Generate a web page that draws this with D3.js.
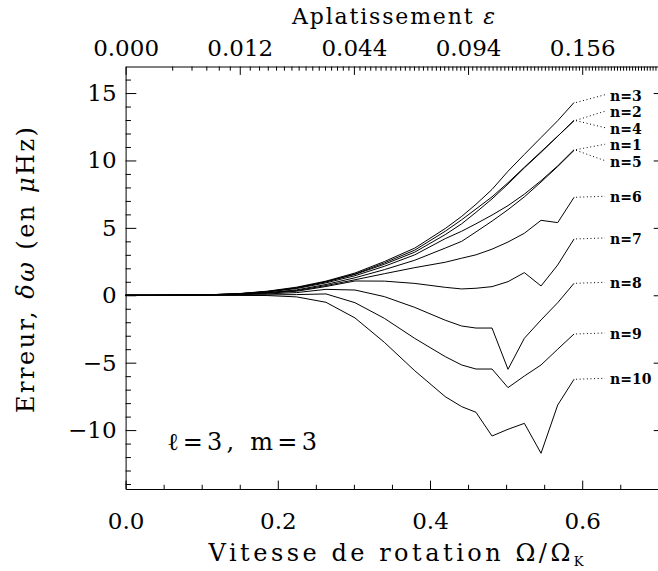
<!DOCTYPE html>
<html><head><meta charset="utf-8">
<script src="https://cdn.jsdelivr.net/npm/d3@7"></script>
<style>body{margin:0;background:#fff}svg{display:block}text{font-family:"DejaVu Serif",serif;fill:#000}</style>
</head><body>
<script>
// ---- data ----
const omega = [0, 0.035, 0.07, 0.11, 0.148, 0.186, 0.2248, 0.2633, 0.3014, 0.340, 0.380, 0.420, 0.4416, 0.4604, 0.4815, 0.5025, 0.524, 0.5459, 0.5678, 0.5893];
const seriesNames = ["n=1","n=2","n=3","n=4","n=5","n=6","n=7","n=8","n=9","n=10"];
const n1  = [0, 0, 0.01, 0.04, 0.10, 0.25, 0.50, 0.92, 1.45, 2.15, 3.00, 4.20, 4.75, 5.30, 5.95, 6.65, 7.50, 8.50, 9.60, 10.80];
const n2  = [0, 0, 0.01, 0.04, 0.11, 0.28, 0.55, 1.00, 1.58, 2.40, 3.35, 4.75, 5.60, 6.40, 7.30, 8.35, 9.50, 10.65, 11.80, 12.98];
const n3  = [0, 0, 0.01, 0.04, 0.12, 0.30, 0.60, 1.05, 1.65, 2.50, 3.50, 4.95, 5.85, 6.75, 7.85, 9.20, 10.45, 11.70, 12.95, 14.30];
const n4  = [0, 0, 0.01, 0.04, 0.11, 0.27, 0.55, 1.00, 1.55, 2.30, 3.20, 4.50, 5.30, 6.15, 7.15, 8.25, 9.45, 10.60, 11.80, 12.95];
const n5  = [0, 0, 0.01, 0.03, 0.09, 0.20, 0.40, 0.80, 1.30, 1.90, 2.60, 3.50, 4.00, 4.70, 5.50, 6.35, 7.30, 8.40, 9.55, 10.75];
const n6  = [0, 0, 0.01, 0.03, 0.08, 0.18, 0.35, 0.72, 1.15, 1.60, 2.05, 2.45, 2.75, 3.00, 3.42, 3.95, 4.60, 5.56, 5.39, 7.27];
const n7  = [0, 0, 0.01, 0.03, 0.07, 0.15, 0.30, 0.65, 1.06, 1.05, 0.88, 0.59, 0.47, 0.52, 0.64, 1.01, 1.68, 0.69, 2.25, 4.18];
const n8  = [0, 0, 0.01, 0.02, 0.05, 0.10, 0.20, 0.44, 0.39, -0.10, -0.90, -1.85, -2.28, -2.43, -2.43, -5.49, -3.19, -1.83, -0.55, 0.89];
const n9  = [0, 0, 0, 0.01, 0.02, 0.03, 0.05, 0.10, -0.55, -1.71, -3.20, -4.55, -5.17, -5.47, -5.47, -6.85, -5.99, -5.17, -4.00, -2.87];
const n10 = [0, 0, 0, 0, -0.01, -0.02, -0.12, -0.52, -1.68, -3.49, -5.60, -7.52, -8.26, -8.68, -10.44, -9.94, -9.50, -11.72, -8.14, -6.23];
const seriesValues = [n1, n2, n3, n4, n5, n6, n7, n8, n9, n10];

const xTickValues = [0, 0.2, 0.4, 0.6];
const xTickLabels = ["0.0", "0.2", "0.4", "0.6"];
const yTickValues = [-10, -5, 0, 5, 10, 15];
const yTickLabels = ["\u221210", "\u22125", "0", "5", "10", "15"];
const epsMajor = [0.000, 0.012, 0.044, 0.094, 0.156];
const epsTickLabels = ["0.000", "0.012", "0.044", "0.094", "0.156"];
const epsTickOmega = [0, 0.15, 0.30, 0.45, 0.60];
const epsMinorStep = 0.002;

// ---- layout ----
const W = 658, H = 571;
const L = 125.6, R = 664.4, T = 66.5, B = 489;
const x = d3.scaleLinear().domain([0, 0.708]).range([L, R]);
const y = d3.scaleLinear().domain([-14.37, 16.97]).range([B, T]);
const tickH = 8.4, tickV = 10.7;

const svg = d3.select("body").append("svg").attr("width", W).attr("height", H);

// bottom axis
const gB = svg.append("g").attr("transform", `translate(0,${B})`);
gB.call(d3.axisBottom(x).tickValues(xTickValues).tickFormat((d, i) => xTickLabels[i])
  .tickSizeInner(-tickH).tickSizeOuter(0).tickPadding(24));
const xMinor = d3.range(1, 15).map(i => i * 0.05).filter(v => Math.abs(v * 5 - Math.round(v * 5)) > 1e-6);
svg.append("g").attr("transform", `translate(0,${B})`)
  .call(d3.axisBottom(x).tickValues(xMinor).tickFormat("").tickSizeInner(-tickH / 2).tickSizeOuter(0))
  .select(".domain").remove();

// left axis
const gL = svg.append("g").attr("transform", `translate(${L},0)`);
gL.call(d3.axisLeft(y).tickValues(yTickValues).tickFormat((d, i) => yTickLabels[i])
  .tickSizeInner(-tickV).tickSizeOuter(0).tickPadding(9));
const yMinor = d3.range(-14, 17).filter(v => v % 5 !== 0);
svg.append("g").attr("transform", `translate(${L},0)`)
  .call(d3.axisLeft(y).tickValues(yMinor).tickFormat("").tickSizeInner(-tickV / 2).tickSizeOuter(0))
  .select(".domain").remove();

// right axis (major only, pointing inward)
svg.append("g").attr("transform", `translate(${R},0)`)
  .call(d3.axisLeft(y).tickValues(yTickValues).tickFormat("").tickSizeInner(tickV).tickSizeOuter(0));

// top axis: flattening epsilon, nonlinear in omega
const eps2om = d3.scaleLinear().domain(epsMajor.map(Math.sqrt)).range(epsTickOmega);
const gT = svg.append("g").attr("transform", `translate(0,${T})`);
gT.call(d3.axisTop(x).tickValues(epsTickOmega).tickFormat((d, i) => epsTickLabels[i])
  .tickSizeInner(-tickH).tickSizeOuter(0).tickPadding(11));
const epsMinor = d3.range(1, 120).map(i => i * epsMinorStep)
  .filter(e => !epsMajor.some(m => Math.abs(m - e) < 1e-6))
  .map(e => eps2om(Math.sqrt(e))).filter(o => x(o) < W + 2);
svg.append("g").attr("transform", `translate(0,${T})`)
  .call(d3.axisTop(x).tickValues(epsMinor).tickFormat("").tickSizeInner(-tickH / 2).tickSizeOuter(0))
  .select(".domain").remove();

svg.selectAll(".tick text").style("font-family", '"DejaVu Serif", serif').style("font-size", "23px");
svg.selectAll(".domain, .tick line").attr("stroke", "#000").attr("stroke-width", 1);

// curves
const line = d3.line().x((d, i) => x(omega[i])).y(d => y(d));
svg.append("g").selectAll("path").data(seriesValues).join("path")
  .attr("d", d => line(d)).attr("fill", "none").attr("stroke", "#000").attr("stroke-width", 1);

// labels with leader lines
const gap = 16.5;
const labs = seriesNames.map((n, i) => ({ name: n, ty: y(seriesValues[i][seriesValues[i].length - 1]) }))
  .sort((a, b) => a.ty - b.ty);
let cl = [];
labs.forEach(d => {
  cl.push({ m: [d], sum: d.ty });
  while (cl.length > 1) {
    const c = cl[cl.length - 1], p = cl[cl.length - 2];
    const ptop = p.sum / p.m.length - (p.m.length - 1) * gap / 2;
    const pbot = ptop + (p.m.length - 1) * gap;
    const ctop = c.sum / c.m.length - (c.m.length - 1) * gap / 2;
    if (pbot + gap > ctop) { p.m = p.m.concat(c.m); p.sum += c.sum; cl.pop(); } else break;
  }
});
cl.forEach(c => {
  const top = c.sum / c.m.length - (c.m.length - 1) * gap / 2;
  c.m.forEach((d, i) => d.ly = top + i * gap);
});
const xEnd = x(omega[omega.length - 1]);
const gLab = svg.append("g");
gLab.selectAll("line").data(labs).join("line")
  .attr("x1", xEnd + 2).attr("y1", d => d.ty).attr("x2", xEnd + 31).attr("y2", d => d.ly - 1)
  .attr("stroke", "#000").attr("stroke-width", 1).attr("stroke-dasharray", "1,2.6");
gLab.selectAll("text").data(labs).join("text")
  .attr("x", xEnd + 36).attr("y", d => d.ly).attr("dy", "0.35em")
  .style("font-size", "14px").style("font-weight", "bold").text(d => d.name);

// annotation
svg.append("text").attr("x", 167).attr("y", 450).style("font-size", "24px")
  .attr("textLength", 150).attr("lengthAdjust", "spacing").text("\u2113=3,  m=3");

// titles
svg.append("text").attr("x", 393.5).attr("y", 24).attr("text-anchor", "middle")
  .style("font-size", "22px").attr("textLength", 203).attr("lengthAdjust", "spacing")
  .html('Aplatissement <tspan font-style="italic">\u03B5</tspan>');
svg.append("text").attr("x", 396).attr("y", 561).attr("text-anchor", "middle")
  .style("font-size", "24px").attr("textLength", 375).attr("lengthAdjust", "spacing")
  .html('Vitesse de rotation \u03A9/\u03A9<tspan font-size="13px" dy="5">K</tspan>');
svg.append("text").attr("transform", "translate(34,270) rotate(-90)").attr("text-anchor", "middle")
  .style("font-size", "24px").attr("textLength", 286).attr("lengthAdjust", "spacing")
  .html('Erreur, <tspan font-style="italic">\u03B4\u03C9</tspan> (en <tspan font-style="italic">\u03BC</tspan>Hz)');
</script>
</body></html>
